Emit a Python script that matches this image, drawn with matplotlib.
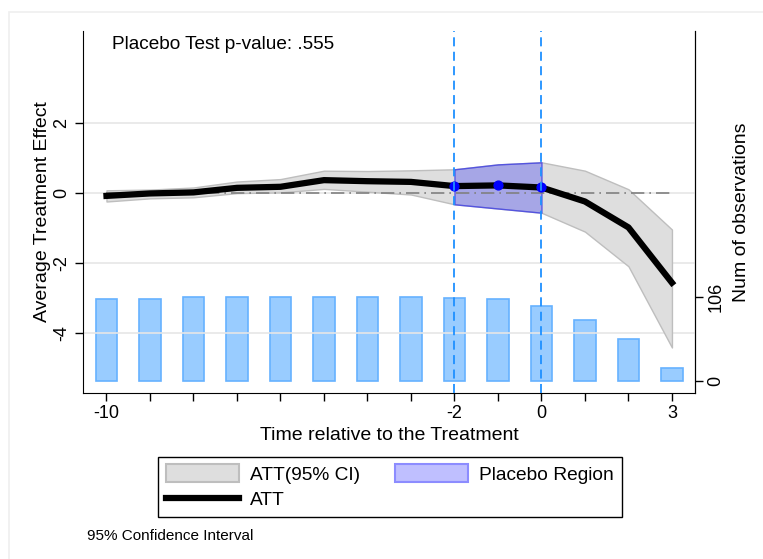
import matplotlib
matplotlib.use('Agg')
import matplotlib.pyplot as plt
from matplotlib.patches import Patch, Rectangle
from matplotlib.lines import Line2D
import numpy as np

plt.rcParams['font.family'] = 'Liberation Sans'
plt.rcParams['axes.unicode_minus'] = False

# event time relative to treatment
periods = [-10, -9, -8, -7, -6, -5, -4, -3, -2, -1, 0, 1, 2, 3]
att = [-0.08, -0.01, 0.02, 0.15, 0.18, 0.37, 0.34, 0.32, 0.20, 0.22, 0.16, -0.24, -0.98, -2.56]
ci_hi = [0.08, 0.10, 0.16, 0.33, 0.40, 0.64, 0.63, 0.65, 0.68, 0.82, 0.88, 0.64, 0.11, -1.04]
ci_lo = [-0.24, -0.15, -0.12, 0.00, 0.02, 0.12, 0.04, -0.04, -0.32, -0.44, -0.56, -1.10, -2.09, -4.41]
n_obs = [104, 104, 106, 106, 106, 106, 106, 106, 105, 104, 95, 77, 53, 16]

placebo_periods = [-2, -1, 0]
placebo_pvalue = '.555'
xtick_labels = {-10: '-10', -2: '-2', 0: '0', 3: '3'}

x = np.asarray(periods)
att = np.asarray(att)
ci_hi = np.asarray(ci_hi)
ci_lo = np.asarray(ci_lo)
in_placebo = np.isin(x, placebo_periods)

fig = plt.figure(figsize=(7.63, 5.59), dpi=100)
fig.patches.append(Rectangle((9 / 763, -0.1), 1.0, 1 - 12 / 559 + 0.1,
                             transform=fig.transFigure, fill=False,
                             edgecolor='#efefef', linewidth=1.2))

ax = fig.add_axes([83 / 763, 1 - 393 / 559, (695 - 83) / 763, (393 - 31) / 559])
ax2 = ax.twinx()
ax.set_zorder(ax2.get_zorder() + 1)
ax.patch.set_visible(False)

# observations bars (right axis)
ax2.bar(x, n_obs, width=0.5, color='#99CCFF', edgecolor='#66B2FF', linewidth=1.2)
ax2.set_ylim(-15.1, 441.7)
ax2.set_yticks([0, 106])
ax2.set_yticklabels(['0', '106'], rotation=90, va='center', fontsize=13)
ax2.set_ylabel('Num of observations', fontsize=14, labelpad=6)

# CI band and placebo region
ax.fill_between(x, ci_lo, ci_hi, color='#DEDEDE', edgecolor='#BEBEBE', linewidth=1.0, zorder=2)
ax.fill_between(x[in_placebo], ci_lo[in_placebo], ci_hi[in_placebo],
                facecolor=(0, 0, 1, 0.25), edgecolor=(0.25, 0.25, 0.9, 0.8), linewidth=1.0, zorder=3)

ax.plot([x[0], x[-1]], [0, 0], color='#808080', linestyle=(0, (8, 3, 1, 3)), linewidth=1.2, zorder=3)
ax.plot(x, att, color='black', linewidth=4.5, zorder=4)
ax.scatter(x[in_placebo], att[in_placebo], s=40, color='#0000FF', zorder=5)

for p in [placebo_periods[0], placebo_periods[-1]]:
    ax.axvline(p, color='#1E90FF', linestyle=(0, (5, 3)), linewidth=1.3, zorder=6)

ax.set_xlim(-10.54, 3.53)
ax.set_ylim(-5.71, 4.63)
ax.set_xticks(periods)
ax.set_xticklabels([xtick_labels.get(p, '') for p in periods], fontsize=13)
ax.set_yticks([-4, -2, 0, 2])
ax.set_yticklabels(['-4', '-2', '0', '2'], rotation=90, va='center', fontsize=13)
ax.yaxis.grid(True, color='#E6E6E6', linewidth=1.2)
ax.set_axisbelow(True)

ax.set_ylabel('Average Treatment Effect', fontsize=14, labelpad=2)
ax.set_xlabel('Time relative to the Treatment', fontsize=14, labelpad=3)

for a in (ax, ax2):
    a.spines['top'].set_visible(False)
    a.tick_params(length=6, width=1, direction='out', pad=3)
ax2.spines['left'].set_visible(False)
ax2.spines['bottom'].set_visible(False)

ax.text(0.048, 0.985, 'Placebo Test p-value: ' + placebo_pvalue, transform=ax.transAxes,
        fontsize=13.7, va='top', ha='left')

handles = [Patch(facecolor='#DEDEDE', edgecolor='#BEBEBE', linewidth=1.5),
           Line2D([], [], color='black', linewidth=4.5),
           Patch(facecolor='#BFBFFF', edgecolor='#8C8CFF', linewidth=1.5)]
labels = ['ATT(95% CI)', 'ATT', 'Placebo Region']
leg = fig.legend(handles, labels, loc='center', bbox_to_anchor=(390 / 763, 0.129), ncol=2,
                 fontsize=13.8, fancybox=False, framealpha=1, edgecolor='black',
                 handlelength=3.8, handleheight=1.0, handletextpad=0.6, columnspacing=1.8,
                 borderpad=0.4, borderaxespad=0, labelspacing=0.35)
leg.get_frame().set_linewidth(1.0)

fig.text(87 / 763, 1 - 536 / 559, '95% Confidence Interval', fontsize=11, va='center', ha='left')

fig.savefig('out.png', dpi=100)
